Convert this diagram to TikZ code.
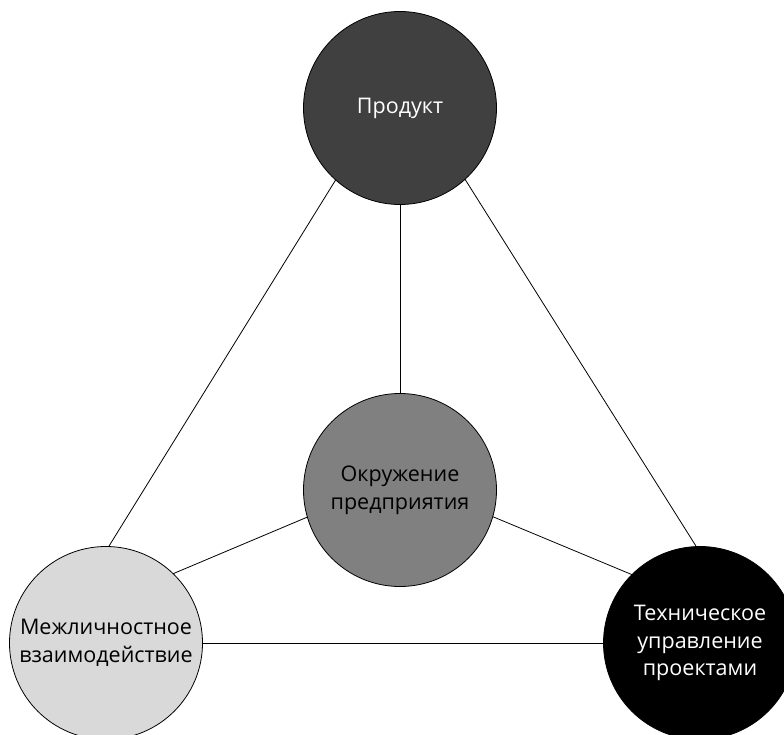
\documentclass[tikz,border=0pt]{standalone}
\usepackage{fontspec}
\setmainfont{Open Sans}
\usetikzlibrary{backgrounds}

\definecolor{darkfill}{HTML}{404040}
\definecolor{midfill}{HTML}{808080}
\definecolor{lightfill}{HTML}{D9D9D9}

\tikzset{
  circ/.style={circle, draw=black, line width=0.8bp, minimum size=193bp, inner sep=0pt,
    align=center, font=\fontsize{21.6}{28}\selectfont},
  link/.style={line width=0.8bp}
}

\begin{document}
\begin{tikzpicture}[x=1bp, y=-1bp]
  \useasboundingbox (0,0) rectangle (784,735);

  % circles
  \node[circ, fill=darkfill, text=white] (prod) at (400,108) {Продукт};
  \node[circ, fill=midfill] (env) at (400,490) {Окружение\\предприятия};
  \node[circ, fill=lightfill] (inter) at (106,643) {Межличностное\\взаимодействие};
  \node[circ, fill=black, text=white] (tech) at (700,643) {Техническое\\управление\\проектами};

  % hidden ends of the links
  \coordinate (apex) at (400,76);
  \coordinate (lcorner) at (49,643);
  \coordinate (rcorner) at (757,643);
  \coordinate (hub) at (400,478);
  \coordinate (lin) at (106,602);
  \coordinate (rin) at (700,603);

  \begin{scope}[on background layer]
    \draw[link] (apex) -- (lcorner);
    \draw[link] (apex) -- (rcorner);
    \draw[link] (inter) -- (tech);
    \draw[link] (prod) -- (env);
    \draw[link] (hub) -- (lin);
    \draw[link] (hub) -- (rin);
  \end{scope}
\end{tikzpicture}
\end{document}
